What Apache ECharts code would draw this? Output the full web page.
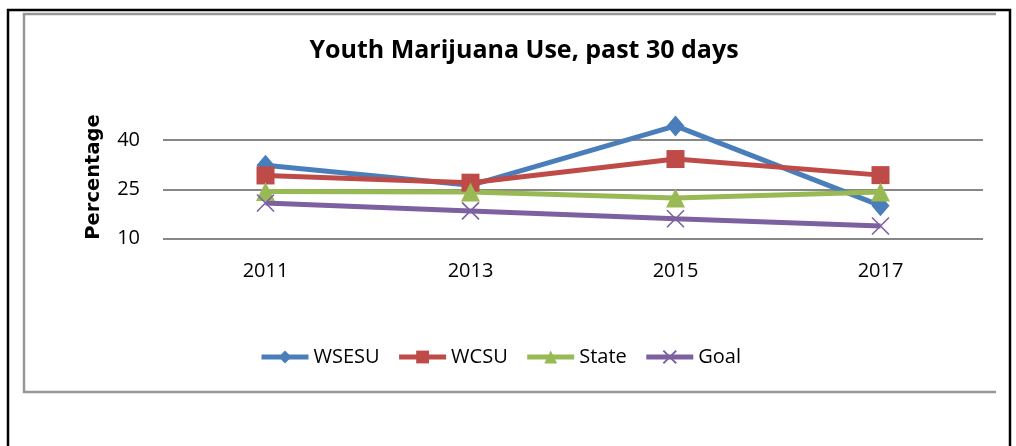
<!DOCTYPE html>
<html>
<head>
<meta charset="utf-8">
<script src="https://cdn.jsdelivr.net/npm/echarts@6/dist/echarts.min.js"></script>
<style>
html,body{margin:0;padding:0;background:#fff;}
#chart{width:1016px;height:446px;}
</style>
</head>
<body>
<div id="chart"></div>
<script>
const categories = ['2011', '2013', '2015', '2017'];
const wsesu = [32.3, 26.2, 44.3, 20.0];
const wcsu = [29.2, 27.0, 34.2, 29.3];
const state = [24.3, 24.2, 22.3, 24.2];
const goal = [20.8, 18.4, 16.0, 13.8];
const yTicks = [10, 25, 40];

const C_BLUE = '#4A7EBB', C_RED = '#BE4B48', C_GREEN = '#98B954', C_PURPLE = '#7D60A0';
const FONT = 'Open Sans';

const chart = echarts.init(document.getElementById('chart'));
const base = {
  type: 'line', clip: false,
  lineStyle: { width: 5 }, z: 2
};
chart.setOption({
  animation: false,
  backgroundColor: '#fff',
  title: {
    text: 'Youth Marijuana Use, past 30 days',
    left: 519, top: 33, textAlign: 'center',
    textStyle: { fontFamily: FONT, fontWeight: 'bold', fontSize: 25, color: '#000' }
  },
  legend: {
    left: 259, top: 347, padding: 0,
    itemWidth: 47, itemHeight: 16, itemGap: 17,
    lineStyle: { width: 5 },
    textStyle: { fontFamily: FONT, fontSize: 20, color: '#000' },
    data: ['WSESU', 'WCSU', 'State', 'Goal']
  },
  grid: { left: 163, right: 33, top: 140, bottom: 207.5 },
  xAxis: {
    type: 'category', data: categories, boundaryGap: true,
    axisLine: { show: false }, axisTick: { show: false },
    axisLabel: { fontFamily: FONT, fontSize: 20, color: '#000', margin: 23 }
  },
  yAxis: {
    type: 'value', min: 10, max: 40, interval: 15,
    axisLine: { show: false }, axisTick: { show: false },
    axisLabel: { fontFamily: FONT, fontSize: 20, color: '#000', margin: 23,
      formatter: v => yTicks.includes(v) ? String(v) : '' },
    splitLine: { lineStyle: { color: '#878787', width: 2 } }
  },
  graphic: [
    { type: 'rect', shape: { x: 8, y: 10, width: 1002, height: 460 },
      style: { fill: 'none', stroke: '#000', lineWidth: 2.5 }, silent: true },
    { type: 'polyline', shape: { points: [[996, 14], [24, 14], [24, 392], [996, 392]] },
      style: { fill: 'none', stroke: '#979797', lineWidth: 2.5 }, silent: true },
    { type: 'text', x: 94, y: 177, rotation: Math.PI / 2, silent: true,
      style: { text: 'Percentage', align: 'center', verticalAlign: 'middle',
        font: 'bold 19.5px "DejaVu Sans"', fill: '#000' } }
  ],
  series: [
    Object.assign({}, base, { name: 'WSESU', data: wsesu, symbol: 'diamond', symbolSize: [18, 21],
      itemStyle: { color: C_BLUE }, lineStyle: { width: 5, color: C_BLUE } }),
    Object.assign({}, base, { name: 'WCSU', data: wcsu, symbol: 'rect', symbolSize: 18,
      itemStyle: { color: C_RED }, lineStyle: { width: 5, color: C_RED } }),
    Object.assign({}, base, { name: 'State', data: state, symbol: 'triangle', symbolSize: [19, 19],
      itemStyle: { color: C_GREEN }, lineStyle: { width: 5, color: C_GREEN } }),
    Object.assign({}, base, { name: 'Goal', data: goal, symbol: 'path://M0,0L10,10M10,0L0,10', symbolSize: 17,
      itemStyle: { color: 'none', borderColor: C_PURPLE, borderWidth: 1.6 },
      lineStyle: { width: 5, color: C_PURPLE } })
  ]
});
</script>
</body>
</html>
